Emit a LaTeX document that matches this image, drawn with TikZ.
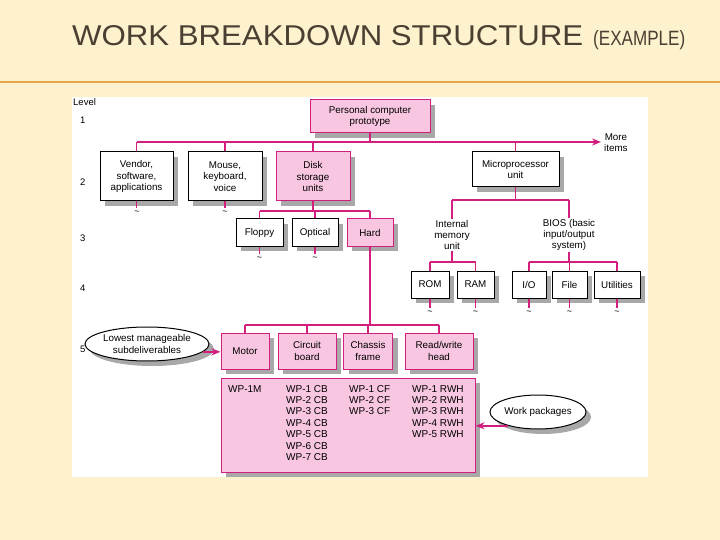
\documentclass[tikz,border=0pt]{standalone}
\usepackage{fontspec}
\setmainfont{Liberation Sans}
\usetikzlibrary{shapes.geometric,shadows,arrows.meta}
\definecolor{bgc}{RGB}{253,241,206}
\definecolor{rulec}{RGB}{226,168,72}
\definecolor{titlec}{RGB}{74,64,50}
\definecolor{mag}{RGB}{210,30,125}
\definecolor{pinkf}{RGB}{248,198,224}
\definecolor{shgray}{RGB}{168,168,168}
\newcommand\wbsfont{\fontsize{9.8}{11.2}\selectfont}
\tikzset{
  shad/.style={drop shadow={shadow xshift=5pt,shadow yshift=-5pt,opacity=1,fill=shgray}},
  wbox/.style={draw=black, line width=1pt, fill=white, align=center, inner sep=1pt, font=\wbsfont, shad},
  pbox/.style={wbox, draw=mag, fill=pinkf},
  conn/.style={draw=mag, line width=1.5pt},
  arr/.style={conn, -{Stealth[length=9pt,width=7pt]}},
  ell/.style={ellipse, draw=black, fill=white, line width=1pt, inner sep=0, align=center, font=\wbsfont, shad},
  lbl/.style={font=\wbsfont, align=center, inner sep=1pt},
  lev/.style={font=\fontsize{9.5}{11}\selectfont, inner sep=0, anchor=west},
  tld/.style={font=\fontsize{9}{9}\selectfont, inner sep=0},
  wpt/.style={font=\fontsize{10}{11.4}\selectfont, align=left, inner sep=0, anchor=north west}
}
\begin{document}
\begin{tikzpicture}[x=1pt,y=-1pt]
\useasboundingbox (0,0) rectangle (720,540);
\fill[bgc] (0,0) rectangle (720,540);
\draw[rulec, line width=2pt] (0,82) -- (720,82);
\node[anchor=base west, text=titlec, inner sep=0] (title) at (72,46) {\resizebox{511pt}{20pt}{WORK BREAKDOWN STRUCTURE}};
\node[anchor=base west, text=titlec, inner sep=0] (ex) at (593,46) {\resizebox{92pt}{15pt}{(EXAMPLE)}};
\fill[white] (72,97) rectangle (648,477);

% level labels
\node[lev] (lv) at (73,102) {Level};
\node[lev] (l1) at (80,120) {1};
\node[lev] (l2) at (80,182) {2};
\node[lev] (l3) at (80,238) {3};
\node[lev] (l4) at (80,288) {4};
\node[lev] (l5) at (80,349) {5};

% level 1
\node[pbox, minimum width=120pt, minimum height=33pt] (pc) at (370,116.5) {Personal computer\\prototype};

% level 2
\node[wbox, minimum width=73pt, minimum height=49pt] (vendor) at (136.5,176.5) {Vendor,\\software,\\applications};
\node[wbox, minimum width=74pt, minimum height=49pt] (mouse) at (225,176.5) {Mouse,\\keyboard,\\voice};
\node[pbox, minimum width=74pt, minimum height=49pt] (disk) at (313,176.5) {Disk\\storage\\units};
\node[wbox, minimum width=87pt, minimum height=35pt] (micro) at (515.5,169.5) {Microprocessor\\unit};
\node[lbl, anchor=west] (more) at (603,143) {More\\items};

% level 3
\node[wbox, minimum width=47pt, minimum height=27pt] (floppy) at (259.5,232.5) {Floppy};
\node[wbox, minimum width=46pt, minimum height=27pt] (optical) at (315,232.5) {Optical};
\node[pbox, minimum width=46pt, minimum height=27pt] (hard) at (370,232.5) {Hard};
\node[lbl] (imu) at (452,235) {Internal\\memory\\unit};
\node[lbl] (bios) at (569,235) {BIOS (basic\\input/output\\system)};

% level 4
\node[wbox, minimum width=38pt, minimum height=27pt] (rom) at (430,284.5) {ROM};
\node[wbox, minimum width=37pt, minimum height=27pt] (ram) at (475.5,284.5) {RAM};
\node[wbox, minimum width=34pt, minimum height=27pt] (io) at (529,284.5) {I/O};
\node[wbox, minimum width=35pt, minimum height=27pt] (file) at (569.5,284.5) {File};
\node[wbox, minimum width=46pt, minimum height=27pt] (util) at (617,284.5) {Utilities};

% level 5
\node[pbox, minimum width=48pt, minimum height=36pt] (motor) at (245,351) {Motor};
\node[pbox, minimum width=58pt, minimum height=36pt] (circuit) at (307,351) {Circuit\\board};
\node[pbox, minimum width=49pt, minimum height=36pt] (chassis) at (368,351) {Chassis\\frame};
\node[pbox, minimum width=68pt, minimum height=36pt] (rw) at (439,351) {Read/write\\head};
\node[ell, minimum width=104pt, minimum height=34pt] (low) at (147,344) {Lowest manageable\\subdeliverables};

% work packages
\node[pbox, minimum width=254pt, minimum height=94pt] (wpbox) at (348,425) {};
\node[wpt] (c1) at (228,385) {WP-1M};
\node[wpt] (c2) at (286,385) {WP-1 CB\\WP-2 CB\\WP-3 CB\\WP-4 CB\\WP-5 CB\\WP-6 CB\\WP-7 CB};
\node[wpt] (c3) at (349,385) {WP-1 CF\\WP-2 CF\\WP-3 CF};
\node[wpt] (c4) at (412,385) {WP-1 RWH\\WP-2 RWH\\WP-3 RWH\\WP-4 RWH\\WP-5 RWH};
\node[ell, minimum width=96pt, minimum height=34pt] (wpk) at (538,412) {Work packages};

% connectors level 1-2
\coordinate (b1l) at (137,142);
\coordinate (b1r) at (601,142);
\draw[conn] (pc.south) -- (pc.south |- b1l);
\draw[arr] (b1l) -- (b1r);
\draw[conn] (vendor.north) -- (vendor.north |- b1l);
\draw[conn] (mouse.north) -- (mouse.north |- b1l);
\draw[conn] (disk.north) -- (disk.north |- b1l);
\draw[conn] (micro.north) -- (micro.north |- b1l);

% tildes under level 2
\coordinate (t2) at (0,208);
\draw[conn] (vendor.south) -- (vendor.south |- t2);
\draw[conn] (mouse.south) -- (mouse.south |- t2);
\node[tld] (tv) at (137,212.5) {\textasciitilde};
\node[tld] (tm) at (225,212.5) {\textasciitilde};

% disk bus
\coordinate (b2) at (0,211);
\draw[conn] (disk.south) -- (disk.south |- b2);
\draw[conn] (floppy.north |- b2) -- (hard.north |- b2);
\draw[conn] (floppy.north) -- (floppy.north |- b2);
\draw[conn] (optical.north) -- (optical.north |- b2);
\draw[conn] (hard.north) -- (hard.north |- b2);
\coordinate (t3) at (0,254);
\draw[conn] (floppy.south) -- (floppy.south |- t3);
\draw[conn] (optical.south) -- (optical.south |- t3);
\node[tld] (tf) at (259.5,259) {\textasciitilde};
\node[tld] (to) at (315,259) {\textasciitilde};

% micro bus
\coordinate (b3) at (0,200);
\draw[conn] (micro.south) -- (micro.south |- b3);
\draw[conn] (imu.north |- b3) -- (bios.north |- b3);
\draw[conn] (imu.north |- b3) -- (imu.north);
\draw[conn] (bios.north |- b3) -- (bios.north);

% level 4 buses
\coordinate (b4) at (0,262);
\draw[conn] (imu.south) -- (imu.south |- b4);
\draw[conn] (rom.north |- b4) -- (ram.north |- b4);
\draw[conn] (rom.north) -- (rom.north |- b4);
\draw[conn] (ram.north) -- (ram.north |- b4);
\draw[conn] (bios.south) -- (bios.south |- b4);
\draw[conn] (io.north |- b4) -- (util.north |- b4);
\draw[conn] (io.north) -- (io.north |- b4);
\draw[conn] (file.north) -- (file.north |- b4);
\draw[conn] (util.north) -- (util.north |- b4);
\coordinate (t4) at (0,308);
\foreach \n in {rom,ram,io,file,util}{
  \draw[conn] (\n.south) -- (\n.south |- t4);
  \node[tld] at ([yshift=-5pt]\n.south |- t4) {\textasciitilde};
}

% level 5 bus
\coordinate (b5) at (0,325);
\draw[conn] (hard.south) -- (hard.south |- b5);
\draw[conn] (motor.north |- b5) -- (rw.north |- b5);
\foreach \n in {motor,circuit,chassis,rw}{
  \draw[conn] (\n.north) -- (\n.north |- b5);
}

% annotation arrows
\draw[arr] (low.-8) -- (low.-8 -| motor.west);
\draw[arr] (wpk.205) -- (wpk.205 -| wpbox.east);
\end{tikzpicture}
\end{document}
